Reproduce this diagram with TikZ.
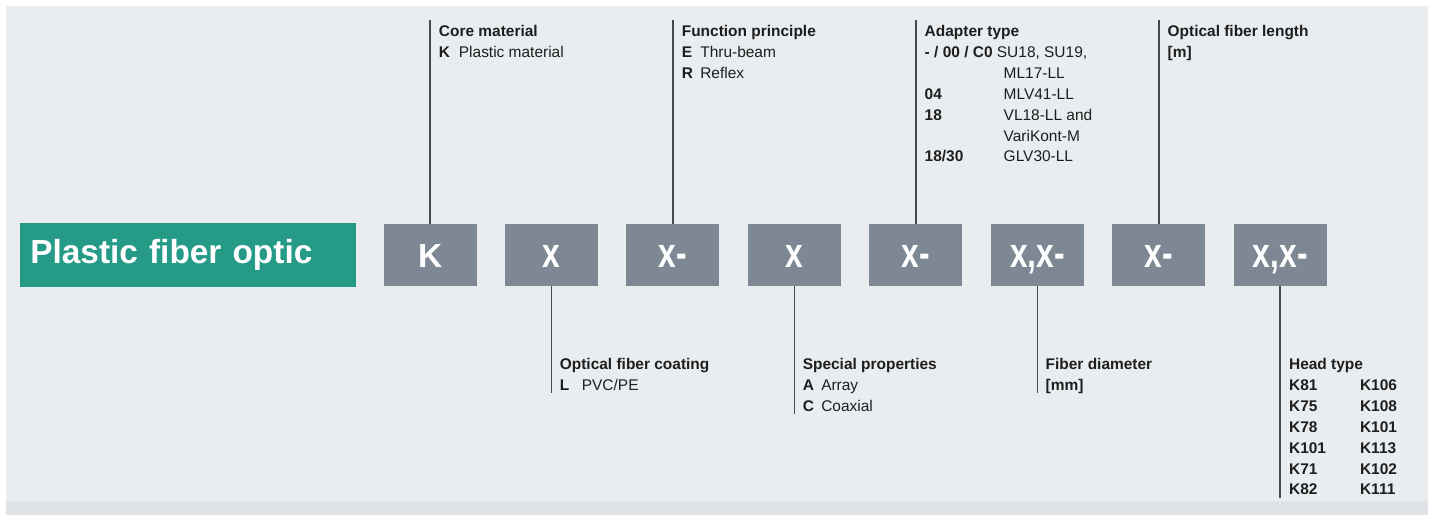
\documentclass[tikz,border=0pt]{standalone}
\usepackage{fontspec}
\setmainfont{Liberation Sans}
\usepackage{graphicx}
\usetikzlibrary{backgrounds,positioning}
\definecolor{panelgray}{HTML}{E9EDF0}
\definecolor{stripgray}{HTML}{DFE3E7}
\definecolor{fibergreen}{HTML}{249A87}
\definecolor{codegray}{HTML}{7D8894}
\definecolor{ink}{HTML}{1E1E1E}
\definecolor{leadgray}{HTML}{4A4A4A}
\definecolor{chaingray}{HTML}{8E8886}
\newcommand{\cx}[1]{\scalebox{0.95}[1.25]{#1}}

\begin{document}
\begin{tikzpicture}[
  title/.style={fill=fibergreen,text=white,font=\fontsize{19}{22}\selectfont\bfseries,text width=6.32cm,inner xsep=.2cm,inner ysep=0pt,minimum height=1.28cm,align=left},
  code/.style={fill=codegray,text=white,font=\fontsize{19}{22}\selectfont\bfseries,inner sep=0pt,text height=.48cm,text depth=0pt,minimum width=1.86cm,minimum height=1.24cm},
  spec/.style={anchor=north west,inner sep=0pt,text=ink,font=\fontsize{8.8}{11.9}\selectfont},
  lead/.style={draw=leadgray,line width=.85pt},
  chain/.style={draw=chaingray,line width=1.2pt}
]
  \useasboundingbox (0,0) rectangle (28.70,-10.30);
  \fill[panelgray] (0.12,-0.12) rectangle (28.56,-10.02);
  \fill[stripgray] (0.12,-10.02) rectangle (28.56,-10.30);

  \coordinate (toprow) at (0,-0.43);
  \coordinate (botrow) at (0,-7.09);

  \node[title,anchor=west] (plastic) at (0.40,-5.10) {Plastic fiber optic};
  \node[code,right=.53cm of plastic] (bk) {K};
  \node[code,right=.555cm of bk] (bcoat) {\cx{x}};
  \node[code,right=.555cm of bcoat] (bfunc) {\cx{x-}};
  \node[code,right=.555cm of bfunc] (bspec) {\cx{x}};
  \node[code,right=.555cm of bspec] (badapt) {\cx{x-}};
  \node[code,right=.555cm of badapt] (bdiam) {\cx{x,x-}};
  \node[code,right=.555cm of bdiam] (blen) {\cx{x-}};
  \node[code,right=.555cm of blen] (bhead) {\cx{x,x-}};

  % labels above the code
  \node[spec] (core) at ([xshift=.17cm]bk.north |- toprow) {\begin{tabular}{@{}p{.40cm}@{}l@{}}
    \multicolumn{2}{@{}l@{}}{\textbf{Core material}}\\
    \textbf{K} & Plastic material
  \end{tabular}};
  \node[spec] (func) at ([xshift=.17cm]bfunc.north |- toprow) {\begin{tabular}{@{}p{.37cm}@{}l@{}}
    \multicolumn{2}{@{}l@{}}{\textbf{Function principle}}\\
    \textbf{E} & Thru-beam\\
    \textbf{R} & Reflex
  \end{tabular}};
  \node[spec] (adapt) at ([xshift=.17cm]badapt.north |- toprow) {\begin{tabular}{@{}p{1.58cm}@{}l@{}}
    \multicolumn{2}{@{}l@{}}{\textbf{Adapter type}}\\
    \multicolumn{2}{@{}l@{}}{\textbf{- / 00 / C0} SU18, SU19,}\\
     & ML17-LL\\
    \textbf{04} & MLV41-LL\\
    \textbf{18} & VL18-LL and\\
     & VariKont-M\\
    \textbf{18/30} & GLV30-LL
  \end{tabular}};
  \node[spec] (len) at ([xshift=.17cm]blen.north |- toprow) {\begin{tabular}{@{}l@{}}
    \textbf{Optical fiber length}\\
    \textbf{[m]}
  \end{tabular}};

  % labels below the code
  \node[spec] (coat) at ([xshift=.16cm]bcoat.south |- botrow) {\begin{tabular}{@{}p{.44cm}@{}l@{}}
    \multicolumn{2}{@{}l@{}}{\textbf{Optical fiber coating}}\\
    \textbf{L} & PVC/PE
  \end{tabular}};
  \node[spec] (spec) at ([xshift=.16cm]bspec.south |- botrow) {\begin{tabular}{@{}p{.37cm}@{}l@{}}
    \multicolumn{2}{@{}l@{}}{\textbf{Special properties}}\\
    \textbf{A} & Array\\
    \textbf{C} & Coaxial
  \end{tabular}};
  \node[spec] (diam) at ([xshift=.16cm]bdiam.south |- botrow) {\begin{tabular}{@{}l@{}}
    \textbf{Fiber diameter}\\
    \textbf{[mm]}
  \end{tabular}};
  \node[spec] (head) at ([xshift=.17cm]bhead.south |- botrow) {\bfseries\begin{tabular}{@{}p{1.42cm}@{}l@{}}
    \multicolumn{2}{@{}l@{}}{Head type}\\
    K81 & K106\\
    K75 & K108\\
    K78 & K101\\
    K101 & K113\\
    K71 & K102\\
    K82 & K111
  \end{tabular}};

  \begin{scope}[on background layer]
    \draw[chain] (plastic.east) -- (bk.west);
    \foreach \a/\b in {bk/bcoat,bcoat/bfunc,bfunc/bspec,bspec/badapt,badapt/bdiam,bdiam/blen,blen/bhead}
      \draw[chain] (\a.east) -- (\b.west);
  \end{scope}
  \foreach \b/\l in {bk/core,bfunc/func,badapt/adapt,blen/len}
    \draw[lead] (\b.north) -- ([yshift=.03cm]\b.north |- \l.north);
  \foreach \b/\l in {bcoat/coat,bspec/spec,bdiam/diam,bhead/head}
    \draw[lead] (\b.south) -- ([yshift=.08cm]\b.south |- \l.south);
\end{tikzpicture}
\end{document}
